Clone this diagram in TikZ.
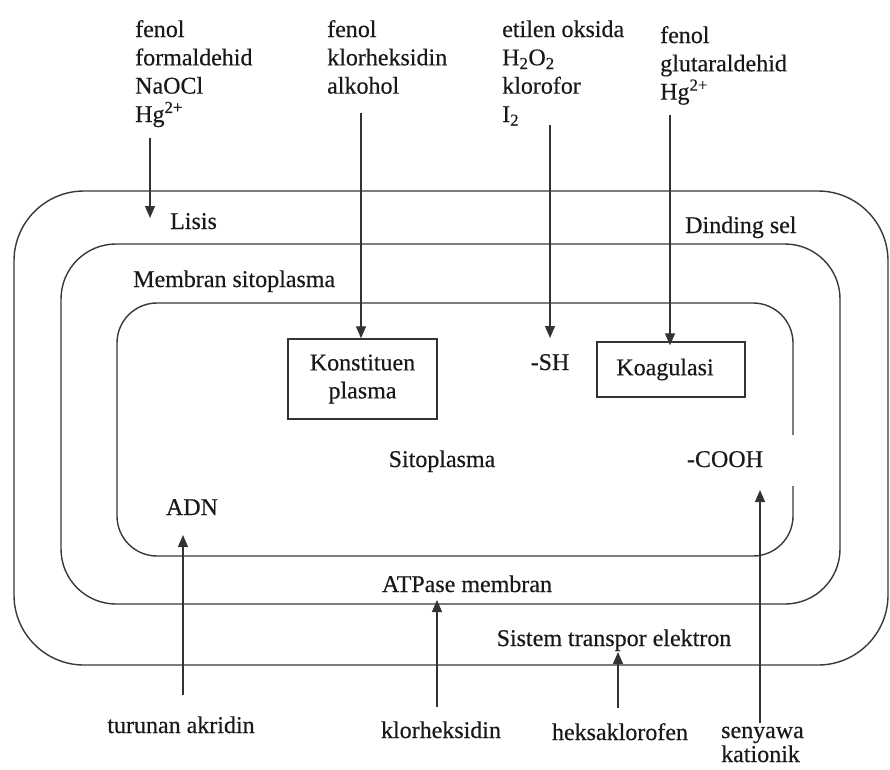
\documentclass[tikz,border=0pt]{standalone}
\usepackage{fontspec}
\setmainfont[FakeBold=0.4]{Liberation Serif}
\usetikzlibrary{arrows.meta}
\begin{document}
\begin{tikzpicture}[x=1pt,y=-1pt,
  every node/.style={font=\fontsize{24}{28}\selectfont, inner sep=0pt, text=black!90},
  lbl/.style={anchor=base west},
  lblc/.style={anchor=base},
  wall/.style={draw=black!78, line width=1.4pt},
  box/.style={draw=black!80, line width=1.5pt, align=center},
  arr/.style={draw=black!80, line width=1.3pt, -{Triangle[length=12pt,width=10pt]}},
]
\useasboundingbox (0,0) rectangle (890,769);

% walls
\draw[wall, rounded corners=70pt] (14,191) rectangle (888,665);
\draw[wall, rounded corners=55pt] (61,244) rectangle (840,604);
\draw[wall, rounded corners=40pt] (793,486) -- (793,556) -- (117,556) -- (117,303) -- (793,303) -- (793,435);

% top columns
\node[lbl] (c1a) at (135,37) {fenol};
\node[lbl] (c1b) at (135,65.3) {formaldehid};
\node[lbl] (c1c) at (135,93.6) {NaOCl};
\node[lbl] (c1d) at (135,122) {Hg\textsuperscript{2+}};

\node[lbl] (c2a) at (327,37) {fenol};
\node[lbl] (c2b) at (327,65.3) {klorheksidin};
\node[lbl] (c2c) at (327,93.6) {alkohol};

\node[lbl] (c3a) at (502,37) {etilen oksida};
\node[lbl] (c3b) at (502,65.3) {H\textsubscript{2}O\textsubscript{2}};
\node[lbl] (c3c) at (502,93.6) {klorofor};
\node[lbl] (c3d) at (502,122) {I\textsubscript{2}};

\node[lbl] (c4a) at (660,43) {fenol};
\node[lbl] (c4b) at (660,71.3) {glutaraldehid};
\node[lbl] (c4c) at (660,99.6) {Hg\textsuperscript{2+}};

% inner labels
\node[lbl] (lisis) at (170,229) {Lisis};
\node[lbl] (dinding) at (685,233) {Dinding sel};
\node[lbl] (membran) at (133,287) {Membran sitoplasma};
\node[box, minimum width=149pt, minimum height=80pt] (kp) at (362.5,379) {Konstituen\\plasma};
\node[lblc] (sh) at (550,370) {-SH};
\node[box, minimum width=148pt, minimum height=55pt] (koag) at (671,369.5) {\hspace*{-12pt}Koagulasi};
\node[lblc] (sito) at (442,467) {Sitoplasma};
\node[lblc] (cooh) at (725,467) {-COOH};
\node[lblc] (adn) at (192,515) {ADN};
\node[lblc] (atp) at (467,592) {ATPase membran};
\node[lblc] (ste) at (614,646) {Sistem transpor elektron};

% bottom labels
\node[lblc] (akr) at (181,733) {turunan akridin};
\node[lblc] (klh) at (441,738) {klorheksidin};
\node[lblc] (hks) at (620,740) {heksaklorofen};
\node[lbl] (sen1) at (721,738) {senyawa};
\node[lbl] (sen2) at (721,762) {kationik};

% arrow end points
\coordinate (a1s) at (150,138);
\coordinate (a1e) at (150,218);
\coordinate (a2s) at (361,113);
\coordinate (a3s) at (550,125);
\coordinate (a4s) at (670,115);
\coordinate (b1s) at (183,695);
\coordinate (b1e) at (183,535);
\coordinate (b2s) at (437,707);
\coordinate (b2e) at (437,600);
\coordinate (b3s) at (618,708);
\coordinate (b3e) at (618,652);
\coordinate (b4s) at (760,723);
\coordinate (b4e) at (760,490);

\draw[arr] (a1s) -- (a1e);
\draw[arr] (a2s) -- (a2s |- kp.north);
\draw[arr] (a3s) -- (550,338);
\draw[arr] (a4s) -- ([yshift=-4pt]a4s |- koag.north);
\draw[arr] (b1s) -- (b1e);
\draw[arr] (b2s) -- (b2e);
\draw[arr] (b3s) -- (b3e);
\draw[arr] (b4s) -- (b4e);
\end{tikzpicture}
\end{document}
